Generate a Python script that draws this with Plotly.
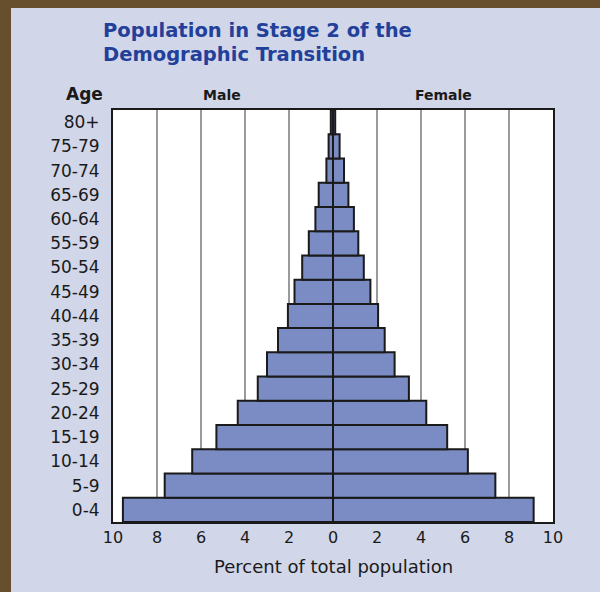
import plotly.graph_objects as go

ages = ["0-4", "5-9", "10-14", "15-19", "20-24", "25-29", "30-34", "35-39",
        "40-44", "45-49", "50-54", "55-59", "60-64", "65-69", "70-74", "75-79", "80+"]
male = [9.55, 7.65, 6.4, 5.3, 4.33, 3.42, 3.0, 2.5, 2.05, 1.75, 1.4, 1.1, 0.8, 0.65, 0.3, 0.2, 0.1]
female = [9.12, 7.38, 6.13, 5.19, 4.24, 3.45, 2.8, 2.35, 2.05, 1.7, 1.4, 1.15, 0.95, 0.7, 0.5, 0.3, 0.1]
tick_vals = [-10, -8, -6, -4, -2, 0, 2, 4, 6, 8, 10]
tick_text = ["10", "8", "6", "4", "2", "0", "2", "4", "6", "8", "10"]

BAR = "#7B8CC4"
EDGE = "#1a1a1a"
BG = "#D1D6E9"
BROWN = "#674F2E"
TITLE = "#22409A"
FONT = "DejaVu Sans, Liberation Sans, sans-serif"

W, H = 600, 592
L, R, T, B = 113, 47, 110, 70
pw, ph = W - L - R, H - T - B


def px(x):
    return (x - L) / pw


def py(y):
    return (H - B - y) / ph


fig = go.Figure()
fig.add_trace(go.Bar(y=ages, x=[-v for v in male], orientation="h", name="Male",
                     marker=dict(color=BAR, line=dict(color=EDGE, width=2)),
                     hoverinfo="skip"))
fig.add_trace(go.Bar(y=ages, x=female, orientation="h", name="Female",
                     marker=dict(color=BAR, line=dict(color=EDGE, width=2)),
                     hoverinfo="skip"))

fig.update_layout(
    width=W, height=H,
    margin=dict(l=L, r=R, t=T, b=B, pad=0),
    paper_bgcolor=BG, plot_bgcolor="white",
    barmode="overlay", bargap=0,
    showlegend=False,
    font=dict(family=FONT, color="#1a1a1a"),
    xaxis=dict(range=[-10, 10], tickvals=tick_vals, ticktext=tick_text,
               showgrid=True, gridcolor="#9a9a9a", gridwidth=2,
               zeroline=True, zerolinecolor=EDGE, zerolinewidth=3,
               showline=True, linecolor=EDGE, linewidth=2, mirror=True,
               ticks="", tickfont=dict(size=16, color="#1a1a1a"), fixedrange=True),
    yaxis=dict(range=[-0.5, 16.5], showgrid=False, zeroline=False,
               showline=True, linecolor=EDGE, linewidth=2, mirror=True,
               ticks="", ticklabelstandoff=8,
               tickfont=dict(size=17, color="#1a1a1a"), fixedrange=True),
)

shapes = [
    dict(type="rect", xref="paper", yref="paper", x0=px(0), x1=px(11), y0=py(H), y1=py(0),
         fillcolor=BROWN, line=dict(width=0), layer="above"),
    dict(type="rect", xref="paper", yref="paper", x0=px(0), x1=px(W), y0=py(8), y1=py(0),
         fillcolor=BROWN, line=dict(width=0), layer="above"),
]
fig.update_layout(shapes=shapes)

ann = [
    dict(text="Population in Stage 2 of the", x=px(101), y=py(31), xanchor="left", yanchor="middle",
         font=dict(size=19.5, color=TITLE, family=FONT, weight="bold")),
    dict(text="Demographic Transition", x=px(101), y=py(54), xanchor="left", yanchor="middle",
         font=dict(size=19.5, color=TITLE, family=FONT, weight="bold")),
    dict(text="Age", x=px(105), y=py(94), xanchor="right", yanchor="middle",
         font=dict(size=17, family=FONT, weight="bold")),
    dict(text="Male", x=px(222), y=py(95), xanchor="center", yanchor="middle",
         font=dict(size=14, family=FONT, weight="bold")),
    dict(text="Female", x=px(443), y=py(95), xanchor="center", yanchor="middle",
         font=dict(size=14, family=FONT, weight="bold")),
    dict(text="Percent of total population", x=0.5, y=py(566), xanchor="center", yanchor="middle",
         font=dict(size=18, family=FONT)),
]
for a in ann:
    a.update(xref="paper", yref="paper", showarrow=False)
fig.update_layout(annotations=ann)

fig.write_html("out.html", config={"displayModeBar": False, "staticPlot": True},
               post_script="document.body.style.margin='0';document.body.style.overflow='hidden';")
